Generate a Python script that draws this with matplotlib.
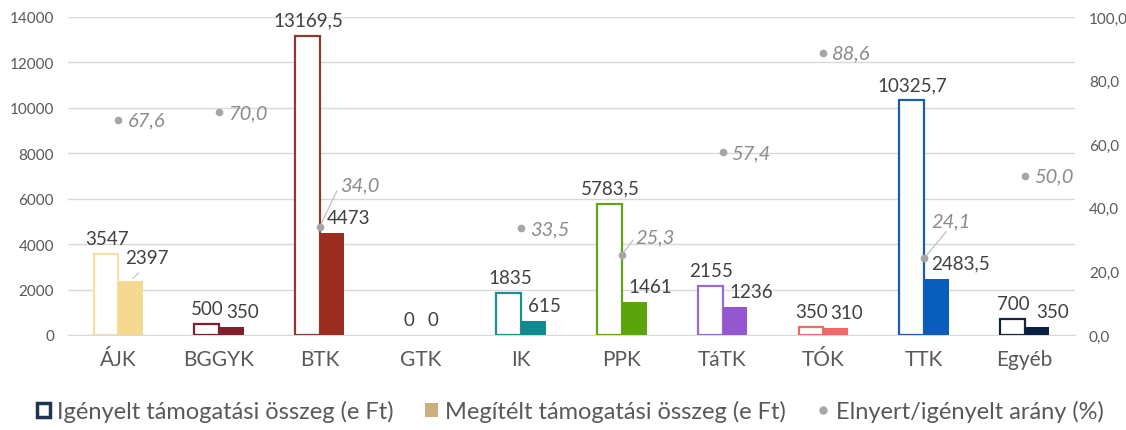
import matplotlib
matplotlib.use("Agg")
import matplotlib.pyplot as plt
from matplotlib.lines import Line2D
from matplotlib.patches import Patch

plt.rcParams['font.family'] = ['Lato', 'DejaVu Sans']

categories = ['ÁJK', 'BGGYK', 'BTK', 'GTK', 'IK', 'PPK', 'TáTK', 'TÓK', 'TTK', 'Egyéb']
igenyelt = [3547, 500, 13169.5, 0, 1835, 5783.5, 2155, 350, 10325.7, 700]
megitelt = [2397, 350, 4473, 0, 615, 1461, 1236, 310, 2483.5, 350]
arany = [67.6, 70.0, 34.0, None, 33.5, 25.3, 57.4, 88.6, 24.1, 50.0]

edge_colors = ['#F3E2A6', '#7B2230', '#8A3A33', '#888888', '#1F8F8F',
               '#62A318', '#9B6BCB', '#EF6B6B', '#1A5EA8', '#17243A']
fill_colors = ['#F5D990', '#7E1F2B', '#9B2D20', '#888888', '#0F8B8D',
               '#5BA40E', '#9457D1', '#F06868', '#0A5DBD', '#0B2142']

gray = '#A6A6A6'
txt = '#404040'


def fmt(v):
    s = f'{v:g}'
    return s.replace('.', ',')


fig = plt.figure(figsize=(11.26, 4.31), dpi=100)
ax = fig.add_axes([68 / 1126, 1 - 336 / 431, 1007 / 1126, 318 / 431])
ax2 = ax.twinx()

x = list(range(len(categories)))
w = 0.245
xl = [i - w / 2 for i in x]
xr = [i + w / 2 for i in x]

lws = [1.6 if v > 0 else 0 for v in igenyelt]
ax.bar(xl, igenyelt, width=w, facecolor='white', edgecolor=edge_colors, linewidth=lws, zorder=3)
ax.bar(xr, megitelt, width=w, color=fill_colors, zorder=3)

ax.set_xlim(-0.5, 9.5)
ax.set_ylim(0, 14000)
ax.set_yticks(range(0, 14001, 2000))
ax.set_xticks(x)
ax.set_xticklabels(categories, fontsize=15, color='#595959')
ax.tick_params(axis='y', labelsize=11, colors='#595959', length=0, pad=10)
ax.tick_params(axis='x', length=0, pad=10)
ax.grid(axis='y', color='#D9D9D9', linewidth=1, zorder=0)
ax.set_axisbelow(True)
for s in ['top', 'right', 'left']:
    ax.spines[s].set_visible(False)
ax.spines['bottom'].set_color('#D9D9D9')

# bar value labels
for i in x:
    ax.annotate(fmt(igenyelt[i]), (xl[i], igenyelt[i]), xytext=(1, 7),
                textcoords='offset pixels', ha='center', va='bottom',
                fontsize=13.5, color=txt, zorder=5)
    dy = 15 if i == 0 else 7
    dx = 12 if i == 9 else 7
    ax.annotate(fmt(megitelt[i]), (xr[i] - w / 2, megitelt[i]), xytext=(dx, dy),
                textcoords='offset pixels', ha='left', va='bottom',
                fontsize=13.5, color=txt, zorder=5)
    if i == 0:
        ax.annotate('', (xr[i], megitelt[i]), xytext=(xr[i] + 0.1, megitelt[i] + 420),
                    arrowprops=dict(arrowstyle='-', color='#BFBFBF', lw=0.8))

# ratio points
ax2.set_ylim(0, 100)
ax2.set_yticks(range(0, 101, 20))
ax2.set_yticklabels([f'{v},0' for v in range(0, 101, 20)])
ax2.tick_params(axis='y', labelsize=11, colors='#595959', length=0, pad=10)
for s in ['top', 'right', 'left', 'bottom']:
    ax2.spines[s].set_visible(False)

px = [i for i in x if arany[i] is not None]
py = [arany[i] for i in px]
ax2.plot(px, py, 'o', color=gray, markersize=4.5, zorder=6)

lab_gray = '#8C8C8C'
leader = {2: (20, 42, (0, 0.5)), 5: (14, 18, (0, 0.5)), 8: (7, 38, (0.45, 0))}
for i in px:
    lbl = f'{arany[i]:.1f}'.replace('.', ',')
    if i in leader:
        dx, dy, rp = leader[i]
        ax2.annotate(lbl, (i, arany[i]), xytext=(dx, dy), textcoords='offset pixels',
                     ha='left', va='center', fontsize=14.5, style='italic', color=lab_gray,
                     arrowprops=dict(arrowstyle='-', color='#BFBFBF', lw=0.9,
                                     relpos=rp, shrinkA=0, shrinkB=0))
    else:
        ax2.annotate(lbl, (i, arany[i]), xytext=(9, 0), textcoords='offset pixels',
                     ha='left', va='center', fontsize=14.5, style='italic', color=lab_gray)

handles = [
    Patch(facecolor='white', edgecolor='#1F3550', linewidth=2.5),
    Patch(facecolor='#CDAE80', edgecolor='none'),
    Line2D([], [], marker='o', linestyle='none', color=gray, markersize=5),
]
labels = ['Igényelt támogatási összeg (e Ft)', 'Megítélt támogatási összeg (e Ft)',
          'Elnyert/igényelt arány (%)']
fig.legend(handles, labels, loc='center', bbox_to_anchor=(0.507, 1 - 412 / 431), ncol=3,
           frameon=False, fontsize=17, handlelength=0.55, handleheight=0.55,
           handletextpad=0.3, columnspacing=1.3, labelcolor='#595959')

fig.savefig('out.png', dpi=100)
